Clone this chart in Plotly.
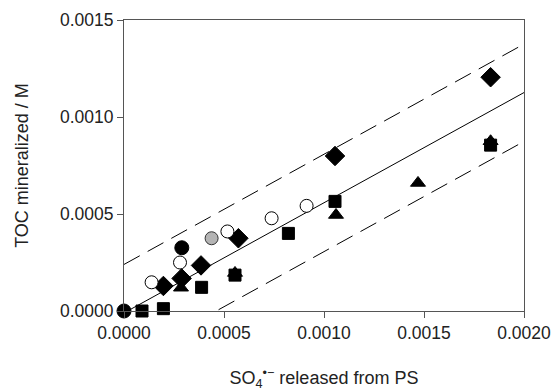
import plotly.graph_objects as go

# Data
circ_fill_x = [0.0, 0.000289]
circ_fill_y = [0.0, 0.000326]
circ_gray_x = [0.000438]
circ_gray_y = [0.000375]
circ_open_x = [0.000138, 0.000280, 0.000517, 0.000738, 0.000913]
circ_open_y = [0.000148, 0.000250, 0.000410, 0.000478, 0.000542]
diam_x = [0.000197, 0.000288, 0.000385, 0.000572, 0.001055, 0.001833]
diam_y = [0.000129, 0.000168, 0.000235, 0.000375, 0.000799, 0.001205]
tri_x = [0.000285, 0.000555, 0.001060, 0.001470, 0.001833]
tri_y = [0.000120, 0.000196, 0.000495, 0.000660, 0.000875]
sq_x = [0.000090, 0.000197, 0.000388, 0.000555, 0.000822, 0.001055, 0.001833]
sq_y = [0.0, 0.000012, 0.000122, 0.000185, 0.000400, 0.000565, 0.000855]

fit_slope = 0.568
fit_intercept = -0.00001
band_upper_intercept = 0.000240
band_lower_intercept = -0.000262
line_x = [0.0, 0.002]

fig = go.Figure()

def line_trace(intercept, dash):
    ys = [fit_slope * x + intercept for x in line_x]
    return go.Scatter(x=line_x, y=ys, mode="lines",
                      line=dict(color="black", width=1, dash=dash),
                      showlegend=False, hoverinfo="skip")

fig.add_trace(line_trace(fit_intercept, "solid"))
fig.add_trace(line_trace(band_upper_intercept, "18px,9px"))
fig.add_trace(line_trace(band_lower_intercept, "18px,9px"))

def pts(x, y, symbol, color, size, lc="black"):
    return go.Scatter(x=x, y=y, mode="markers", cliponaxis=False,
                      marker=dict(symbol=symbol, color=color, size=size,
                                  line=dict(color=lc, width=1)),
                      showlegend=False)

fig.add_trace(pts(tri_x, tri_y, "triangle-up", "black", 13))
fig.add_trace(pts(sq_x, sq_y, "square", "black", 12))
fig.add_trace(pts(diam_x, diam_y, "diamond", "black", 15))
fig.add_trace(pts(circ_open_x, circ_open_y, "circle", "white", 13))
fig.add_trace(pts(circ_gray_x, circ_gray_y, "circle", "#b4b4b4", 13, "#333333"))
fig.add_trace(pts(circ_fill_x, circ_fill_y, "circle", "black", 14))

FONT = "Liberation Sans, Arial"
axis_common = dict(showline=True, linecolor="#555555", linewidth=1, mirror=True,
                   ticks="outside", ticklen=6, tickcolor="#555555",
                   showgrid=False, zeroline=False, tickformat=".4f",
                   automargin=False,
                   tickfont=dict(family=FONT, size=17.5, color="#222222"))

fig.update_xaxes(range=[0, 0.002], dtick=0.0005, **axis_common,
                 title=dict(text="SO<sub>4</sub><sup>•−</sup> released from PS",
                            font=dict(family=FONT, size=18, color="#222222"),
                            standoff=37))
fig.update_yaxes(range=[0, 0.0015], dtick=0.0005, **axis_common,
                 title=dict(text="TOC mineralized / M",
                            font=dict(family=FONT, size=18, color="#222222"),
                            standoff=26))

fig.update_layout(width=555, height=391, margin=dict(l=124, r=31, t=20, b=80),
                  plot_bgcolor="white", paper_bgcolor="white")

fig.write_html("out.html")
